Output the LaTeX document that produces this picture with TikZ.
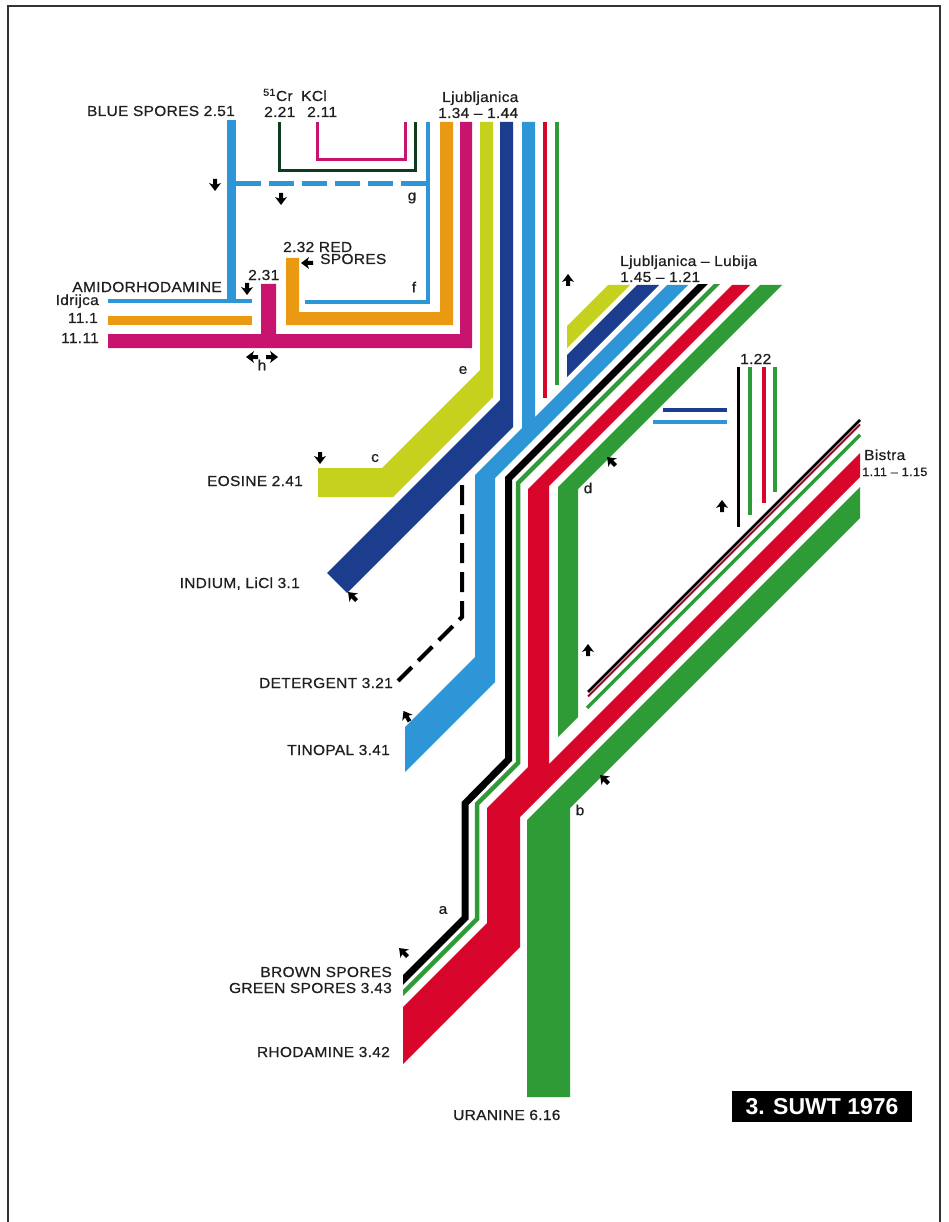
\documentclass[tikz,border=0pt]{standalone}
\usepackage{fontspec}
\setmainfont{Liberation Sans}[FakeStretch=1.07,LetterSpace=2,FakeBold=0.6]
\newfontfamily\boxfont{Liberation Sans}
\definecolor{lblue}{HTML}{2E95D6}
\definecolor{dblue}{HTML}{1C3C8E}
\definecolor{lime}{HTML}{C5D11C}
\definecolor{orng}{HTML}{E99A12}
\definecolor{mgnt}{HTML}{C8146E}
\definecolor{rred}{HTML}{D9062C}
\definecolor{grn}{HTML}{2F9B36}
\definecolor{dgrn}{HTML}{0E3A1E}
\tikzset{
  lab/.style={inner sep=0pt, font=\fontsize{14.5}{16}\selectfont, text=black!88},
  mk/.pic={\fill[black] (0,-7) -- (6,1) -- (2,-0.5) -- (2,5) -- (-2,5) -- (-2,-0.5) -- (-6,1) -- cycle;},
}
\begin{document}
\begin{tikzpicture}[x=1pt,y=-1pt,line join=miter]
\useasboundingbox (0,0) rectangle (948,1222);
\fill[white] (0,0) rectangle (948,1222);
\draw[line width=1.5,black!80] (8,1222) -- (8,6) -- (940,6) -- (940,1222);

% --- top-left inputs
\draw[lblue,line width=9] (231.5,120) -- (231.5,303);
\draw[lblue,line width=5,dash pattern=on 25 off 8] (236,184) -- (426,184);
\draw[lblue,line width=4] (108,301) -- (252,301);
\draw[lblue,line width=4.5] (305,302) -- (428,302) -- (428,122);
\draw[dgrn,line width=3] (279,122) -- (279,171) -- (415,171) -- (415,122);
\draw[mgnt,line width=3] (317,122) -- (317,160) -- (405,160) -- (405,122);

\fill[orng] (440,122) -- (453,122) -- (453,325) -- (286,325) -- (286,258) -- (299,258) -- (299,312) -- (440,312) -- cycle;
\fill[orng] (108,316) rectangle (252,325);
\fill[mgnt] (460,122) -- (472,122) -- (472,348) -- (108,348) -- (108,334) -- (261,334) -- (261,284) -- (276,284) -- (276,334) -- (460,334) -- cycle;

% --- Ljubljanica bands
\fill[lime] (480,122) -- (493,122) -- (493,397) -- (393,497) -- (318,497) -- (318,468) -- (382,468) -- (480,370) -- cycle;
\fill[dblue] (500,122) -- (513,122) -- (513,427) -- (347,593) -- (327,573) -- (500,400) -- cycle;
\fill[lblue] (522,122) -- (535,122) -- (535,417) -- (667,285) -- (688,285) -- (495,478) -- (495,682) -- (405,772) -- (405,727) -- (475,657) -- (475,475) -- (522,428) -- cycle;
\draw[rred,line width=4] (545,122) -- (545,398);
\draw[grn,line width=4] (557,122) -- (557,385);

% --- Ljubljanica-Lubija bands
\fill[lime] (608,285) -- (630,285) -- (567,348) -- (567,326) -- cycle;
\fill[dblue] (637,285) -- (659,285) -- (567,377) -- (567,355) -- cycle;
\begin{scope}
  \clip (403,285) rectangle (948,1222);
  \draw[black,line width=7] (712,275) -- (508.5,478.5) -- (508.5,759.5) -- (465,803.5) -- (465,918) -- (395,988);
  \draw[grn,line width=4.5] (726,275) -- (518,483) -- (518,763) -- (477,804) -- (477,919) -- (395,1001);
\end{scope}
\fill[rred] (732,285) -- (750,285) -- (549,486) -- (549,764) -- (860,453) -- (860,477) -- (520,817) -- (520,947) -- (403,1064) -- (403,1007) -- (487,923) -- (487,808) -- (528,767) -- (528,489) -- cycle;
\fill[grn] (760,285) -- (782,285) -- (578,489) -- (578,717) -- (558,737) -- (558,487) -- cycle;
\fill[grn] (860,487) -- (860,518) -- (570,808) -- (570,1097) -- (527,1097) -- (527,820) -- cycle;

% --- Bistra thin lines
\draw[black,line width=2.8] (860,420) -- (588,692);
\draw[rred!70!black,line width=1.8] (860,424.5) -- (588,696.5);
\draw[grn,line width=3.5] (860,435) -- (587,708);

% --- 1.22
\draw[black,line width=3] (738.5,367) -- (738.5,527);
\draw[grn,line width=4] (750,367) -- (750,515);
\draw[rred,line width=4] (764,367) -- (764,503);
\draw[grn,line width=4] (775,367) -- (775,492);
\draw[dblue,line width=4] (663,410) -- (727,410);
\draw[lblue,line width=4] (653,422) -- (727,422);

% --- detergent
\draw[black,line width=4,dash pattern=on 20 off 9] (462,485) -- (462,617) -- (398,681);

% --- markers
\pic[rotate=180] at (215,184) {mk};
\pic[rotate=180] at (281,198) {mk};
\pic[rotate=180] at (247,288) {mk};
\pic[rotate=90] at (308,263) {mk};
\pic[rotate=90] at (253,357) {mk};
\pic[rotate=-90] at (271,357) {mk};
\pic at (568,281) {mk};
\pic[rotate=180] at (320,457) {mk};
\pic[rotate=45] at (353,597) {mk};
\pic[rotate=30] at (407,717) {mk};
\pic[rotate=45] at (612,462) {mk};
\pic at (722,507) {mk};
\pic at (588,651) {mk};
\pic[rotate=45] at (605,780) {mk};
\pic[rotate=45] at (404,953) {mk};

% --- labels
\node[lab,anchor=base east] (tbs) at (235,116) {BLUE SPORES 2.51};
\node[lab,anchor=base west] (tcr) at (263,101) {\textsuperscript{51}Cr};
\node[lab,anchor=base west] (tcrn) at (264,117) {2.21};
\node[lab,anchor=base west] (tkcl) at (301,101) {KCl};
\node[lab,anchor=base west] (tkcln) at (307,117) {2.11};
\node[lab,anchor=base west] (tlj) at (442,102) {Ljubljanica};
\node[lab,anchor=base west] (tljn) at (438,118) {1.34 – 1.44};
\node[lab,anchor=base west] (tll) at (620,266) {Ljubljanica – Lubija};
\node[lab,anchor=base west] (tlln) at (620,282) {1.45 – 1.21};
\node[lab,anchor=base west] (t122) at (740,364) {1.22};
\node[lab,anchor=base west] (tbi) at (864,460) {Bistra};
\node[lab,anchor=base west,font=\fontsize{12}{14}\selectfont] (tbin) at (862,476) {1.11 – 1.15};
\node[lab,anchor=base west] (trs1) at (283,252) {2.32 RED};
\node[lab,anchor=base west] (trs2) at (320,264) {SPORES};
\node[lab,anchor=base west] (t231) at (248,280) {2.31};
\node[lab,anchor=base east] (tam) at (222,292) {AMIDORHODAMINE};
\node[lab,anchor=base east] (tid) at (99,305) {Idrijca};
\node[lab,anchor=base east] (t111) at (98,323) {11.1};
\node[lab,anchor=base east] (t1111) at (99,343) {11.11};
\node[lab,anchor=base east] (teo) at (303,486) {EOSINE 2.41};
\node[lab,anchor=base east] (tin) at (300,588) {INDIUM, LiCl 3.1};
\node[lab,anchor=base east] (tde) at (393,688) {DETERGENT 3.21};
\node[lab,anchor=base east] (tti) at (390,755) {TINOPAL 3.41};
\node[lab,anchor=base east] (tbr) at (392,977) {BROWN SPORES};
\node[lab,anchor=base east] (tgr) at (392,993) {GREEN SPORES 3.43};
\node[lab,anchor=base east] (trh) at (390,1057) {RHODAMINE 3.42};
\node[lab,anchor=base west] (tur) at (453,1120) {URANINE 6.16};
\node[lab] (la) at (443,910) {a};
\node[lab] (lb) at (580,810) {b};
\node[lab] (lc) at (375,458) {c};
\node[lab] (ld) at (588,488) {d};
\node[lab] (le) at (463,370) {e};
\node[lab] (lf) at (414,287) {f};
\node[lab] (lg) at (412,198) {g};
\node[lab] (lh) at (262,365) {h};
\node[fill=black,text=white,inner sep=0pt,minimum width=180pt,minimum height=31pt,font=\boxfont\bfseries\fontsize{23}{25}\selectfont] (suwt) at (822,1106.5) {3. SUWT 1976};
\end{tikzpicture}
\end{document}
